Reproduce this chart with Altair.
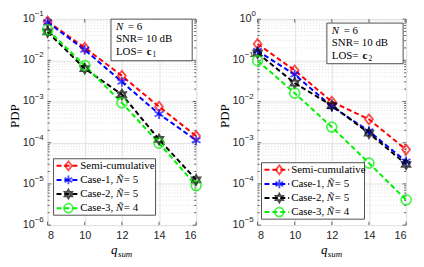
import altair as alt
import pandas as pd

q_sum = [8, 10, 12, 14, 16]
series = ["Semi-cumulative", "Case-1", "Case-2", "Case-3"]

# Left panel (LOS = c1)
left_semi = [0.088, 0.0203, 0.0042, 0.00075, 0.000145]
left_case1 = [0.084, 0.018, 0.0030, 0.00050, 0.000115]
left_case2 = [0.049, 0.0063, 0.00148, 0.00012, 0.0000126]
left_case3 = [0.055, 0.0075, 0.00093, 0.0000975, 0.0000091]

# Right panel (LOS = c2)
right_semi = [0.25, 0.057, 0.0099, 0.0037, 0.00068]
right_case1 = [0.17, 0.045, 0.0076, 0.0019, 0.00035]
right_case2 = [0.15, 0.028, 0.0080, 0.0017, 0.00030]
right_case3 = [0.098, 0.016, 0.0024, 0.00032, 0.000041]

colors = ["#ff0000", "#0000ff", "#000000", "#00f000"]
DIAMOND = "M0,-1L0.8,0L0,1L-0.8,0Z"
ASTER = "M0,-1L0,1M-0.87,-0.5L0.87,0.5M-0.87,0.5L0.87,-0.5"
HEXA = "M0,-1L0.866,0.5L-0.866,0.5ZM0,1L0.866,-0.5L-0.866,-0.5Z"
shapes = [DIAMOND, ASTER, HEXA, "circle"]
legend_pieces = [
    [("Semi-cumulative", "normal")],
    [("Case-1, ", "normal"), ("Ñ", "italic"), (" = 5", "normal")],
    [("Case-2, ", "normal"), ("Ñ", "italic"), (" = 5", "normal")],
    [("Case-3, ", "normal"), ("Ñ", "italic"), (" = 4", "normal")],
]
piece_w = {"Semi-cumulative": 0, "Case-1, ": 36, "Case-2, ": 36, "Case-3, ": 36, "Ñ": 8}

SERIF = "Liberation Serif"
SANS = "Liberation Sans"
W, H = 150, 208
one = alt.Data(values=[{"a": 1}])
TICKC = "#262626"


def txt(s, x, y, size=11, style="normal", weight="normal", align="left", font=SERIF,
        angle=0, color="#000000"):
    return alt.Chart(one).mark_text(
        text=s, font=font, fontSize=size, fontStyle=style, fontWeight=weight,
        align=align, baseline="middle", color=color, angle=angle
    ).encode(x=alt.value(x), y=alt.value(y))


def panel(vals, lo_exp, hi_exp, los_sub, box, leg):
    rows = []
    for s, v in zip(series, vals):
        for q, p in zip(q_sum, v):
            rows.append({"q": q, "pdp": p, "series": s})
    df = pd.DataFrame(rows)
    majors = [10.0 ** e for e in range(lo_exp, hi_exp + 1)]
    minors = [m * 10.0 ** e for e in range(lo_exp, hi_exp) for m in range(2, 10)]
    exps = [str(e).replace("-", "\u2212") for e in range(lo_exp, hi_exp + 1)]
    tick_df = pd.DataFrame({"v": majors, "e": exps})

    xs = alt.Scale(domain=[8, 16], nice=False)
    ys = alt.Scale(type="log", domain=[10.0 ** lo_exp, 10.0 ** hi_exp], nice=False)
    col = alt.Scale(domain=series, range=colors)
    shp = alt.Scale(domain=series, range=shapes)

    AX = alt.Axis(values=q_sum, title=None, grid=True, gridColor="#e3e3e3",
                  ticks=False, domain=False, labelFont=SANS, labelFontSize=11,
                  labelColor=TICKC, labelPadding=5, labelOverlap=False)
    AY = alt.Axis(values=majors, title=None, grid=True, gridColor="#e3e3e3",
                  ticks=False, domain=False, labels=False)

    def Y(f):
        return alt.Y(f, scale=ys, axis=AY)

    def X(f):
        return alt.X(f, scale=xs, axis=AX)

    minor_df = pd.DataFrame({"v": minors})
    minor_grid = alt.Chart(minor_df).mark_rule(
        color="#d4d4d4", strokeWidth=0.7, strokeDash=[1, 2]
    ).encode(y=Y("v:Q"))

    # inward ticks on all four sides
    tick_layers = []
    major_df = pd.DataFrame({"v": majors})
    for d, ln in ((major_df, 3.5), (minor_df, 2)):
        tick_layers.append(alt.Chart(d).mark_rule(color=TICKC, strokeWidth=0.7).encode(
            y=Y("v:Q"), x=alt.value(0), x2=alt.value(ln)))
        tick_layers.append(alt.Chart(d).mark_rule(color=TICKC, strokeWidth=0.7).encode(
            y=Y("v:Q"), x=alt.value(W - ln), x2=alt.value(W)))
    qdf = pd.DataFrame({"q": q_sum})
    tick_layers.append(alt.Chart(qdf).mark_rule(color=TICKC, strokeWidth=0.7).encode(
        x=X("q:Q"), y=alt.value(H - 3.5), y2=alt.value(H)))
    tick_layers.append(alt.Chart(qdf).mark_rule(color=TICKC, strokeWidth=0.7).encode(
        x=X("q:Q"), y=alt.value(0), y2=alt.value(3.5)))

    base = alt.Chart(df).encode(
        x=X("q:Q"),
        y=Y("pdp:Q"),
        color=alt.Color("series:N", scale=col, legend=None),
        detail="series:N",
    )
    lines = base.mark_line(strokeDash=[5, 3], strokeWidth=2)
    pts = base.mark_point(filled=False, size=100, strokeWidth=1.8).encode(
        shape=alt.Shape("series:N", scale=shp, legend=None))

    # y tick labels: "10" with superscript exponent
    neg = tick_df[tick_df["v"] < 0.99]
    zer = tick_df[tick_df["v"] >= 0.99]
    ylab = []
    for sub, bx in ((neg, -13), (zer, -6)):
        if len(sub) == 0:
            continue
        ylab.append(alt.Chart(sub).mark_text(font=SANS, fontSize=11, align="right",
                                             baseline="middle", color=TICKC).transform_calculate(
            t="'10'").encode(y=Y("v:Q"), x=alt.value(bx), text="t:N"))
        ylab.append(alt.Chart(sub).mark_text(font=SANS, fontSize=8, align="left",
                                             baseline="middle", dy=-5, color=TICKC).encode(
            y=Y("v:Q"), x=alt.value(bx), text="e:N"))

    layers = [minor_grid] + tick_layers + [lines, pts] + ylab

    # annotation box
    bx0, bx1, by0, by1 = box
    layers.append(alt.Chart(one).mark_rect(fill="white", stroke=TICKC, strokeWidth=0.8).encode(
        x=alt.value(bx0), x2=alt.value(bx1), y=alt.value(by0), y2=alt.value(by1)))
    tx = bx0 + 5
    l1, l2, l3 = by0 + 8, by0 + 20, by0 + 33
    layers += [
        txt("N", tx, l1, style="italic"),
        txt("= 6", tx + 12, l1),
        txt("SNR= 10 dB", tx, l2),
        txt("LOS= ", tx, l3),
        txt("c", tx + 31, l3, weight="bold"),
        txt(los_sub, tx + 37, l3 + 3, size=7.5),
    ]

    # legend
    lx0, lx1, ly0, ly1, lline0, lline1, lmark, ltext = leg
    layers.append(alt.Chart(one).mark_rect(fill="white", stroke=TICKC, strokeWidth=0.8).encode(
        x=alt.value(lx0), x2=alt.value(lx1), y=alt.value(ly0), y2=alt.value(ly1)))
    step = (ly1 - ly0) / 4.0
    for i, s in enumerate(series):
        yy = ly0 + step * (i + 0.5)
        layers.append(alt.Chart(one).mark_rule(color=colors[i], strokeWidth=2, strokeDash=[5, 3]).encode(
            x=alt.value(lline0), x2=alt.value(lline1), y=alt.value(yy)))
        layers.append(alt.Chart(one).mark_point(filled=False, size=80, strokeWidth=1.8,
                                                 shape=shapes[i], color=colors[i]).encode(
            x=alt.value(lmark), y=alt.value(yy)))
        xx = ltext
        for piece, style in legend_pieces[i]:
            layers.append(txt(piece, xx, yy, size=11, style=style))
            xx += piece_w.get(piece, 0)

    # axis titles
    layers.append(txt("PDP", -33, H / 2 - 6, size=13, align="center", angle=270))
    layers.append(txt("q", W / 2 - 11, H + 25, size=13, style="italic"))
    layers.append(txt("sum", W / 2 - 4, H + 29, size=9, style="italic"))

    return alt.layer(*layers).properties(width=W, height=H)


left = panel([left_semi, left_case1, left_case2, left_case3], -6, -1, "1",
             (64, 146, 0, 42), (6, 109, 141, 198, 9, 31, 21, 33))
right = panel([right_semi, right_case1, right_case2, right_case3], -5, 0, "2",
              (70, 147, 4, 45), (4, 108, 145, 202, 7, 32, 22, 34))

chart = alt.hconcat(left, right, spacing=12).properties(
    padding={"left": 0, "top": 0, "right": 0, "bottom": 0}
).configure_view(stroke=TICKC, strokeWidth=1).configure(background="white")

chart.save("out.html", embed_options={"renderer": "svg", "actions": False})
